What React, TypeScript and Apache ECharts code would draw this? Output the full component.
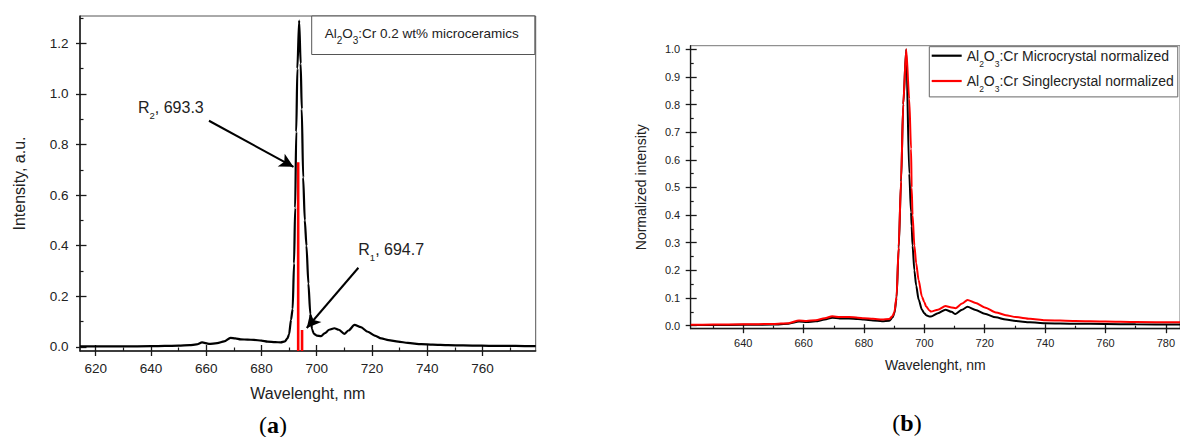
import React, { useEffect, useRef } from "react";
import * as echarts from "echarts";

const FONT = "'Liberation Sans', Arial, Helvetica, sans-serif";
const SERIF = "'Liberation Serif', 'Times New Roman', serif";

// ---------- Panel (a): Al2O3:Cr 0.2 wt% microceramics ----------
const aName = "Al2O3:Cr 0.2 wt% microceramics";
const aWavelength = [614.3, 620, 630, 640, 645, 650, 654, 656.5, 658.5, 661, 664, 666.5, 668.8, 670.5, 672.5, 675, 677.3, 680, 682.2, 685, 687, 688.5, 689.4, 690.0, 690.7, 691.3, 691.8, 692.2, 692.6, 693.0, 693.65, 694.2, 694.6, 695.1, 695.7, 696.3, 697.0, 697.7, 698.3, 699.0, 700.0, 701.6, 703.0, 704.5, 706.4, 708.0, 710.0, 711.5, 713.7, 716.0, 718.5, 721.0, 723.4, 726.0, 729.5, 733.0, 737.9, 742.0, 747.6, 753.0, 759.7, 765.0, 772.0, 779.3];
const aIntensity = [0.002, 0.002, 0.002, 0.003, 0.004, 0.005, 0.007, 0.010, 0.018, 0.012, 0.015, 0.022, 0.036, 0.034, 0.030, 0.029, 0.028, 0.025, 0.021, 0.019, 0.018, 0.022, 0.034, 0.05, 0.107, 0.15, 0.33, 0.55, 0.85, 1.1, 1.29, 1.12, 0.94, 0.67, 0.5, 0.4, 0.25, 0.13, 0.07, 0.052, 0.045, 0.043, 0.055, 0.068, 0.074, 0.068, 0.052, 0.065, 0.087, 0.078, 0.06, 0.045, 0.034, 0.027, 0.021, 0.016, 0.011, 0.009, 0.007, 0.006, 0.005, 0.004, 0.004, 0.003];
const aLineWavelength = [693.3, 694.7];
const aLineHeight = [0.73, 0.067];
const aXRange = [614.3, 779.3];
const aYRange = [-0.016, 1.308];
const aXTicks = [620, 640, 660, 680, 700, 720, 740, 760];
const aXMinor = [630, 650, 670, 690, 710, 730, 750, 770];
const aYTicks = [0, 0.2, 0.4, 0.6, 0.8, 1.0, 1.2];
const aYMinor = [0.1, 0.3, 0.5, 0.7, 0.9, 1.1, 1.3];
const arrowR2 = [[661.0, 0.894], [691.6, 0.712]];
const arrowR1 = [[715.1, 0.313], [696.4, 0.075]];

// ---------- Panel (b): normalized comparison ----------
const bMicroName = "Al2O3:Cr Microcrystal normalized";
const bSingleName = "Al2O3:Cr Singlecrystal normalized";
const bWavelength = [622.6, 630, 640, 650, 655, 658.5, 661, 664, 667, 669.5, 672, 675, 678, 680, 683, 686, 688.4, 689.5, 690.1, 690.8, 691.5, 692.3, 693.0, 694.0, 695.0, 695.6, 695.8, 696.1, 696.7, 697.3, 698.1, 699.2, 700.0, 700.6, 701.7, 702.2, 704.5, 707, 709, 710.3, 712.5, 714.3, 717, 720, 723.7, 727, 730.3, 735, 740, 750, 760, 770, 784.7];
const bMicro = [0.002, 0.002, 0.003, 0.004, 0.007, 0.015, 0.013, 0.016, 0.022, 0.029, 0.026, 0.026, 0.024, 0.022, 0.019, 0.016, 0.018, 0.03, 0.045, 0.1, 0.28, 0.52, 0.8, 1.0, 0.55, 0.41, 0.36, 0.29, 0.2, 0.145, 0.095, 0.058, 0.045, 0.038, 0.033, 0.033, 0.045, 0.058, 0.05, 0.042, 0.058, 0.068, 0.057, 0.043, 0.03, 0.022, 0.017, 0.012, 0.009, 0.007, 0.006, 0.005, 0.004];
const bSingle = [0.003, 0.004, 0.005, 0.006, 0.009, 0.019, 0.017, 0.02, 0.027, 0.034, 0.031, 0.031, 0.029, 0.027, 0.025, 0.022, 0.024, 0.035, 0.05, 0.105, 0.286, 0.527, 0.8, 1.0, 0.82, 0.64, 0.5, 0.4, 0.29, 0.226, 0.165, 0.105, 0.085, 0.069, 0.055, 0.051, 0.058, 0.071, 0.066, 0.063, 0.08, 0.093, 0.082, 0.066, 0.048, 0.038, 0.031, 0.025, 0.02, 0.017, 0.015, 0.013, 0.012];
const bXRange = [622.6, 784.7];
const bYRange = [-0.011, 1.013];
const bXTicks = [640, 660, 680, 700, 720, 740, 760, 780];
const bXMinor = [630, 650, 670, 690, 710, 730, 750, 770];
const bYTicks = [0, 0.1, 0.2, 0.3, 0.4, 0.5, 0.6, 0.7, 0.8, 0.9, 1.0];
const bYMinor = [0.05, 0.15, 0.25, 0.35, 0.45, 0.55, 0.65, 0.75, 0.85, 0.95];

function chemRich(name: string): string {
  const rest = name.replace(/^Al2O3/, "");
  return `{m|Al}{s|2}{m|O}{s|3}{m|${rest}}`;
}

type AxisOpts = {
  fontSize: number; margin: number; name: string; nameGap: number; nameSize: number;
  inLen: number; outLen: number; minorLen: number; digits: number; lineW: number;
};

function axisGroup(dim: "x" | "y", gridIndex: number, range: number[], major: number[], minor: number[], o: AxisOpts) {
  const position = dim === "x" ? "bottom" : "left";
  const c = "#1a1a1a";
  const base: any = {
    type: "value", gridIndex, position, offset: 0, min: range[0], max: range[1],
    splitLine: { show: false }, silent: true,
  };
  return [
    {
      ...base,
      axisLine: { show: true, onZero: false, lineStyle: { color: c, width: o.lineW } },
      axisTick: { show: true, inside: true, length: o.inLen, customValues: major, lineStyle: { color: c, width: 1.3 } },
      axisLabel: {
        show: true, customValues: major, margin: o.margin, fontSize: o.fontSize, fontFamily: FONT, color: "#222",
        formatter: (v: number) => Number(v).toFixed(o.digits),
      },
      name: o.name, nameLocation: "middle", nameGap: o.nameGap,
      nameTextStyle: { fontSize: o.nameSize, fontFamily: FONT, color: "#222" },
    },
    {
      ...base,
      axisLine: { show: false, onZero: false },
      axisTick: { show: true, inside: false, length: o.outLen, customValues: major, lineStyle: { color: c, width: 1.3 } },
      axisLabel: { show: false },
    },
    {
      ...base,
      axisLine: { show: false, onZero: false },
      axisTick: { show: true, inside: true, length: o.minorLen, customValues: minor, lineStyle: { color: c, width: 1.2 } },
      axisLabel: { show: false },
    },
  ];
}

export default function App() {
  const ref = useRef<HTMLDivElement>(null);

  useEffect(() => {
    if (!ref.current) return;
    const chart = echarts.init(ref.current, undefined, { renderer: "svg" });

    const legendRichA = {
      m: { fontSize: 13.5, fontFamily: FONT, color: "#222", lineHeight: 18 },
      s: { fontSize: 10, fontFamily: FONT, color: "#222", lineHeight: 18, height: 1, padding: [15, 0, 0, 0] },
    };
    const legendRichB = {
      m: { fontSize: 14, fontFamily: FONT, color: "#222", lineHeight: 18 },
      s: { fontSize: 8.5, fontFamily: FONT, color: "#222", lineHeight: 18, height: 1, padding: [16, 0, 0, 0] },
    };
    const annRich = {
      m: { fontSize: 16, fontFamily: FONT, fill: "#222", lineHeight: 18 },
      s: { fontSize: 9.5, fontFamily: FONT, fill: "#222", lineHeight: 18, height: 1, padding: [16, 0, 0, 0] },
    };
    const panelRich = {
      p: { fontSize: 24, fontFamily: SERIF, fill: "#000" },
      b: { fontSize: 24, fontFamily: SERIF, fill: "#000", fontWeight: "bold" },
    };

    const option: any = {
      animation: false,
      backgroundColor: "#ffffff",
      grid: [
        { left: 80, top: 16, width: 455.7, height: 335, show: true, borderColor: "#555", borderWidth: 1, backgroundColor: "transparent" },
        { left: 690.7, top: 45.7, width: 490.6, height: 283, show: true, borderColor: "#777", borderWidth: 1, backgroundColor: "transparent" },
      ],
      xAxis: [
        ...axisGroup("x", 0, aXRange, aXTicks, aXMinor, {
          fontSize: 13.5, margin: 10, name: "Wavelenght, nm", nameGap: 34, nameSize: 16,
          inLen: 6, outLen: 5, minorLen: 3.5, digits: 0, lineW: 1.5,
        }),
        ...axisGroup("x", 1, bXRange, bXTicks, bXMinor, {
          fontSize: 11, margin: 8.5, name: "Wavelenght, nm", nameGap: 29, nameSize: 14,
          inLen: 4.5, outLen: 4.5, minorLen: 3, digits: 0, lineW: 1.3,
        }),
      ],
      yAxis: [
        ...axisGroup("y", 0, aYRange, aYTicks, aYMinor, {
          fontSize: 13.5, margin: 11.5, name: "Intensity, a.u.", nameGap: 53, nameSize: 16,
          inLen: 6.5, outLen: 4, minorLen: 3.5, digits: 1, lineW: 1.5,
        }),
        ...axisGroup("y", 1, bYRange, bYTicks, bYMinor, {
          fontSize: 11, margin: 10.5, name: "Normalized intensity", nameGap: 43, nameSize: 14,
          inLen: 6, outLen: 5, minorLen: 3, digits: 1, lineW: 1.3,
        }),
      ],
      legend: [
        {
          data: [{ name: aName, icon: "none" }],
          left: 311.7, top: 16, orient: "vertical",
          itemWidth: 0, itemHeight: 2, padding: [9, 16, 9, 8],
          borderColor: "#555", borderWidth: 1, backgroundColor: "#fff",
          selectedMode: false,
          formatter: (n: string) => chemRich(n),
          textStyle: { fontFamily: FONT, fontSize: 13.5, color: "#222", rich: legendRichA },
        },
        {
          data: [{ name: bMicroName, icon: "rect" }, { name: bSingleName, icon: "rect" }],
          left: 929.3, top: 46.7, orient: "vertical",
          itemWidth: 30, itemHeight: 2.2, itemGap: 4.3, padding: [0.5, 4, 3.4, 2.4],
          borderColor: "#666", borderWidth: 1, backgroundColor: "#fff",
          selectedMode: false,
          formatter: (n: string) => chemRich(n),
          textStyle: { fontFamily: FONT, fontSize: 14, color: "#222", rich: legendRichB },
        },
      ],
      series: [
        {
          name: aName, type: "line", xAxisIndex: 0, yAxisIndex: 0,
          data: aWavelength.map((x, i) => [x, aIntensity[i]]),
          showSymbol: false, symbol: "none", smooth: 0.25, smoothMonotone: "x",
          lineStyle: { color: "#000", width: 2.2 }, itemStyle: { color: "#000" },
          markLine: {
            silent: true, symbol: ["none", "arrow"], symbolSize: [11, 14],
            label: { show: false },
            lineStyle: { color: "#000", width: 2, type: "solid" },
            data: [
              [{ coord: arrowR2[0] }, { coord: arrowR2[1] }],
              [{ coord: arrowR1[0] }, { coord: arrowR1[1] }],
            ],
          },
        },
        {
          name: "R lines", type: "line", xAxisIndex: 0, yAxisIndex: 0,
          data: aLineWavelength.flatMap((x, i) => [[x, aYRange[0]], [x, aLineHeight[i]], [x, "-"]]),
          showSymbol: false, symbol: "none", connectNulls: false,
          lineStyle: { color: "#ff0000", width: 2.6 }, itemStyle: { color: "#ff0000" },
        },
        {
          name: bMicroName, type: "line", xAxisIndex: 3, yAxisIndex: 3,
          data: bWavelength.map((x, i) => [x, bMicro[i]]),
          showSymbol: false, symbol: "none", smooth: 0.25, smoothMonotone: "x",
          lineStyle: { color: "#000", width: 2 }, itemStyle: { color: "#000" },
        },
        {
          name: bSingleName, type: "line", xAxisIndex: 3, yAxisIndex: 3,
          data: bWavelength.map((x, i) => [x, bSingle[i]]),
          showSymbol: false, symbol: "none", smooth: 0.25, smoothMonotone: "x",
          lineStyle: { color: "#ff0000", width: 2 }, itemStyle: { color: "#ff0000" },
        },
      ],
      graphic: [
        {
          type: "text", x: 138, y: 107.5, silent: true,
          style: { text: "{m|R}{s|2}{m|, 693.3}", rich: annRich, align: "left", verticalAlign: "middle" },
        },
        {
          type: "text", x: 358.3, y: 249, silent: true,
          style: { text: "{m|R}{s|1}{m|, 694.7}", rich: annRich, align: "left", verticalAlign: "middle" },
        },
        {
          type: "text", x: 273, y: 425, silent: true,
          style: { text: "{p|(}{b|a}{p|)}", rich: panelRich, align: "center", verticalAlign: "middle" },
        },
        {
          type: "text", x: 907, y: 423, silent: true,
          style: { text: "{p|(}{b|b}{p|)}", rich: panelRich, align: "center", verticalAlign: "middle" },
        },
      ],
    };

    chart.setOption(option);
    return () => chart.dispose();
  }, []);

  return (
    <div
      ref={ref}
      style={{ position: "fixed", left: 0, top: 0, width: 1180, height: 437, background: "#fff" }}
    />
  );
}
